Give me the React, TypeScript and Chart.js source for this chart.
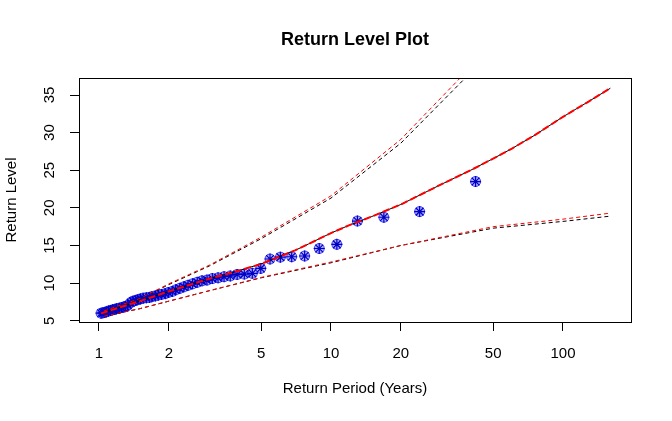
import { useEffect, useRef } from 'react'
import { Chart, registerables } from 'chart.js'

Chart.register(...registerables)

// empirical return periods (years) and observed return levels
const periods = [
  42.0, 24.1, 16.9, 13.0, 10.6, 8.9, 7.7, 6.77, 6.05, 5.46, 4.98, 4.58, 4.23, 3.94, 3.68,
  3.46, 3.26, 3.08, 2.92, 2.78, 2.65, 2.53, 2.42, 2.32, 2.23, 2.14, 2.07, 1.99, 1.93, 1.86,
  1.8, 1.75, 1.69, 1.65, 1.6, 1.55, 1.51, 1.47, 1.44, 1.4, 1.37, 1.33, 1.3, 1.27, 1.25,
  1.22, 1.19, 1.17, 1.145, 1.122, 1.1, 1.079, 1.059, 1.04, 1.021,
]
const levels = [
  23.5, 19.5, 18.75, 18.25, 15.15, 14.6, 13.6, 13.5, 13.45, 13.2, 11.95, 11.3, 11.2, 11.15, 10.95,
  10.85, 10.7, 10.6, 10.4, 10.3, 10.1, 9.9, 9.7, 9.5, 9.3, 9.1, 8.9, 8.75, 8.6, 8.5,
  8.4, 8.3, 8.2, 8.1, 8.05, 8.0, 7.9, 7.8, 7.7, 7.6, 7.4, 7.05, 6.9, 6.8, 6.75,
  6.65, 6.6, 6.5, 6.45, 6.35, 6.3, 6.2, 6.1, 6.05, 6.0,
]

// fitted return level curve
const fitPeriods = [1.02, 1.1, 1.25, 1.5, 2, 3, 4, 5, 7, 8, 10, 12, 15, 20, 30, 40, 50, 60, 75, 100, 130, 160]
const fitLevels = [
  5.97, 6.3, 6.85, 7.6, 8.9, 10.6, 11.65, 12.55, 14.35, 15.2, 16.65, 17.7, 18.85, 20.45, 23.15,
  25.0, 26.55, 27.85, 29.6, 32.1, 34.2, 35.9,
]

// confidence bounds
const ciPeriods = [1.05, 1.5, 2, 3, 5, 10, 20, 50, 100, 160]
const upperBlack = [6.3, 7.9, 9.8, 12.3, 15.9, 21.3, 28.6, 41.0, 52, 60]
const upperRed = [6.3, 7.95, 9.9, 12.4, 16.1, 21.6, 29.1, 41.8, 53, 61]
const lowerBlack = [5.6, 6.6, 7.6, 9.0, 10.7, 12.7, 15.0, 17.3, 18.2, 18.9]
const lowerRed = [5.6, 6.6, 7.6, 9.0, 10.75, 12.8, 15.0, 17.5, 18.5, 19.3]

const xTicks = [1, 2, 5, 10, 20, 50, 100]
const yTicks = [5, 10, 15, 20, 25, 30, 35]

const FONT = 'Liberation Sans, Arial, Helvetica, sans-serif'

const pts = (xs: number[], ys: number[]) => xs.map((x, i) => ({ x, y: ys[i] }))

const boxPlugin = {
  id: 'plotBox',
  afterDatasetsDraw(chart: Chart) {
    const { ctx, chartArea: a } = chart
    ctx.save()
    ctx.strokeStyle = '#000'
    ctx.lineWidth = 1
    ctx.strokeRect(
      Math.round(a.left) + 0.5,
      Math.round(a.top) + 0.5,
      Math.round(a.right - a.left),
      Math.round(a.bottom - a.top)
    )
    ctx.restore()
  },
}

function ReturnLevelChart() {
  const canvasRef = useRef<HTMLCanvasElement>(null)
  const chartRef = useRef<Chart | null>(null)

  useEffect(() => {
    if (!canvasRef.current) return
    if (chartRef.current) chartRef.current.destroy()

    const line = (data: { x: number; y: number }[], color: string, width: number, dash: number[], order: number) => ({
      type: 'scatter' as const,
      data,
      showLine: true,
      borderColor: color,
      borderWidth: width,
      borderDash: dash,
      pointRadius: 0,
      pointHoverRadius: 0,
      tension: 0,
      clip: 0,
      order,
    })

    chartRef.current = new Chart(canvasRef.current, {
      type: 'scatter',
      data: {
        datasets: [
          line(pts(fitPeriods, fitLevels), '#ff0000', 2, [7, 3], 1),
          line(pts(fitPeriods, fitLevels), '#000000', 1, [], 2),
          line(pts(ciPeriods, upperRed), '#ff0000', 1, [4, 3], 3),
          line(pts(ciPeriods, upperBlack), '#000000', 1, [4, 3], 4),
          line(pts(ciPeriods, lowerRed), '#ff0000', 1, [4, 3], 5),
          line(pts(ciPeriods, lowerBlack), '#000000', 1, [4, 3], 6),
          {
            type: 'scatter',
            data: pts(periods, levels),
            pointStyle: 'star',
            pointRadius: 5.5,
            pointBorderColor: '#0000c0',
            pointBorderWidth: 1.2,
            order: 7,
          },
          {
            type: 'scatter',
            data: pts(periods, levels),
            pointStyle: 'circle',
            pointRadius: 5,
            pointBackgroundColor: 'rgba(70,70,255,0.45)',
            pointBorderColor: '#3a3aff',
            pointBorderWidth: 1,
            order: 8,
          },
        ],
      },
      options: {
        responsive: true,
        maintainAspectRatio: false,
        animation: false,
        layout: { padding: { left: 0, right: 41, top: 0, bottom: 0 } },
        plugins: {
          legend: { display: false },
          tooltip: { enabled: false },
          title: {
            display: true,
            fullSize: false,
            text: 'Return Level Plot',
            color: '#000',
            font: { family: FONT, size: 18, weight: 'bold' },
            padding: { top: 29, bottom: 27.4 },
          },
        },
        scales: {
          x: {
            type: 'logarithmic',
            position: 'bottom',
            min: 0.82,
            max: 196.4,
            afterBuildTicks: (scale: any) => {
              scale.ticks = xTicks.map((v) => ({ value: v }))
            },
            afterFit: (scale: any) => {
              scale.height = 99
            },
            ticks: {
              color: '#000',
              font: { family: FONT, size: 15 },
              padding: 14,
              autoSkip: false,
              maxRotation: 0,
              callback: (v: any) => String(v),
            },
            grid: { display: true, drawOnChartArea: false, drawTicks: true, tickLength: 9, color: '#000' },
            border: { display: false },
            title: {
              display: true,
              text: 'Return Period (Years)',
              color: '#000',
              font: { family: FONT, size: 15 },
              padding: { top: 0, bottom: 23 },
            },
          },
          y: {
            type: 'linear',
            min: 4.83,
            max: 37.26,
            afterBuildTicks: (scale: any) => {
              scale.ticks = yTicks.map((v) => ({ value: v }))
            },
            afterFit: (scale: any) => {
              scale.width = 79
            },
            ticks: {
              color: '#000',
              font: { family: FONT, size: 15 },
              padding: 12,
              autoSkip: false,
              minRotation: 90,
              maxRotation: 90,
              crossAlign: 'center',
            },
            grid: { display: true, drawOnChartArea: false, drawTicks: true, tickLength: 9, color: '#000' },
            border: { display: false },
            title: {
              display: true,
              text: 'Return Level',
              color: '#000',
              font: { family: FONT, size: 15 },
              padding: { top: 3, bottom: 0 },
            },
          },
        },
      },
      plugins: [boxPlugin],
    } as any)

    return () => {
      if (chartRef.current) {
        chartRef.current.destroy()
        chartRef.current = null
      }
    }
  }, [])

  return (
    <div style={{ position: 'absolute', left: 0, top: 0, width: 672, height: 421, background: '#fff' }}>
      <canvas ref={canvasRef} />
    </div>
  )
}

export default function App() {
  return <ReturnLevelChart />
}
